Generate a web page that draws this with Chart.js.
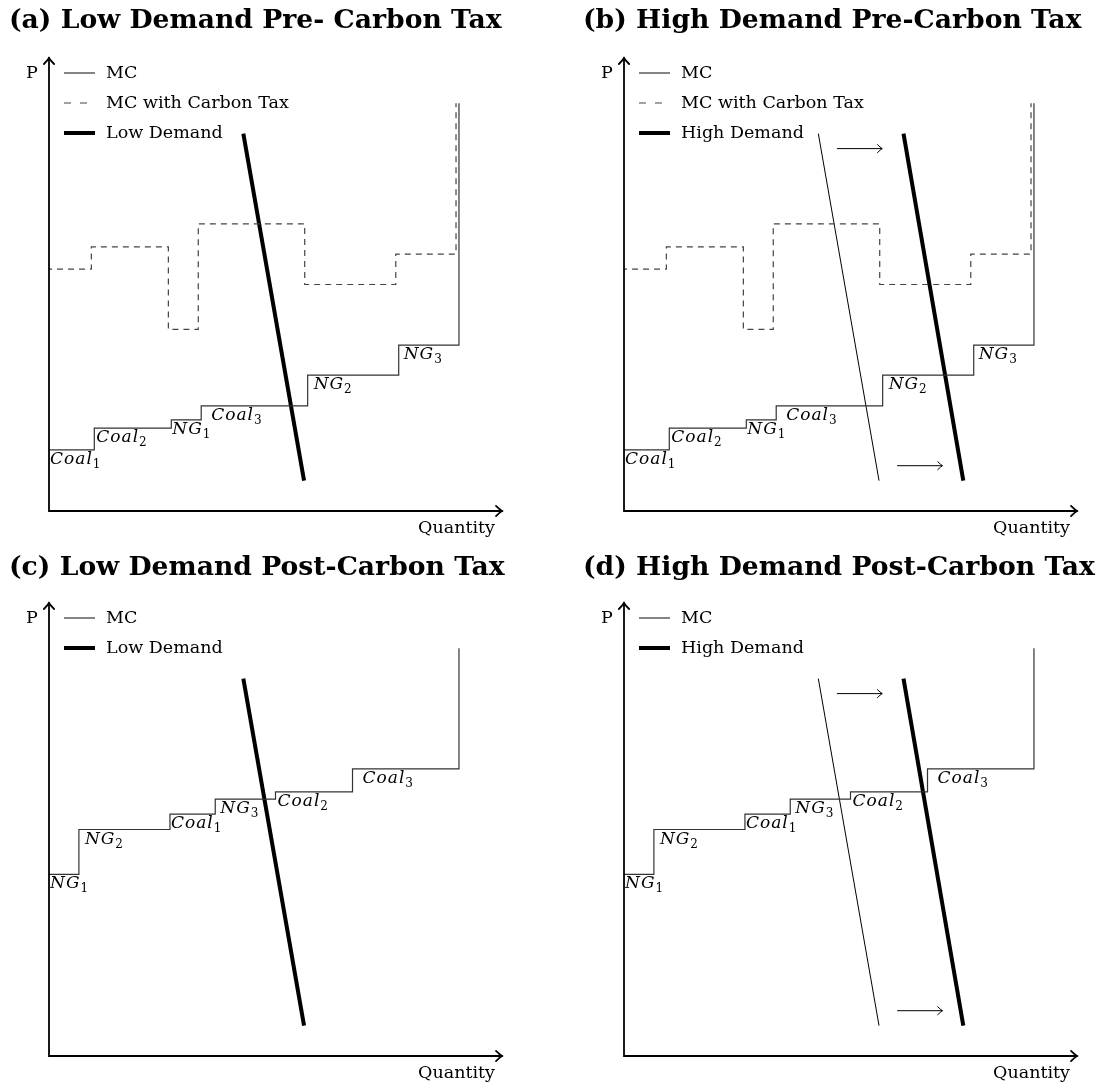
<!DOCTYPE html>
<html>
<head>
<meta charset="utf-8">
<script src="https://cdn.jsdelivr.net/npm/chart.js@4.4.1/dist/chart.umd.min.js"></script>
<style>
  body { margin: 0; background: #fff; }
  #wrap { position: relative; width: 1101px; height: 1082px; }
  canvas { position: absolute; }
</style>
</head>
<body>
<div id="wrap">
  <canvas id="panel-a" width="560" height="540" style="left:0;top:0"></canvas>
  <canvas id="panel-b" width="541" height="540" style="left:560px;top:0"></canvas>
  <canvas id="panel-c" width="560" height="542" style="left:0;top:540px"></canvas>
  <canvas id="panel-d" width="541" height="542" style="left:560px;top:540px"></canvas>
</div>
<script>
// --data (axis runs 0-100 on both sides)-- //
const generators = ['Coal_1', 'Coal_2', 'NG_1', 'Coal_3', 'NG_2', 'NG_3'];
const capacity = [10.0, 17.0, 6.6, 23.5, 20.1, 13.3];
const mcPre = [13.5, 18.3, 20.1, 23.2, 30.0, 36.6];
const mcTax = [53.4, 58.3, 40.1, 63.4, 50.0, 56.7];
const mcCap = 90.0;

const lowDemand = [{x: 42.9, y: 83.3}, {x: 56.3, y: 6.7}];
const highDemand = [{x: 61.7, y: 83.3}, {x: 74.9, y: 6.7}];
const shiftArrows = [{x0: 47.0, x1: 57.0, y: 80.0}, {x0: 60.3, x1: 70.3, y: 10.0}];

const titles = [
  '(a) Low Demand Pre- Carbon Tax',
  '(b) High Demand Pre-Carbon Tax',
  '(c) Low Demand Post-Carbon Tax',
  '(d) High Demand Post-Carbon Tax'
];

// merit order: before the tax in the listed order, after it sorted by taxed cost
const preOrder = generators.map((g, i) => i);
const postOrder = [...preOrder].sort((a, b) => mcTax[a] - mcTax[b]);

// small nudges so the step names sit like in the original
const labelShift = {Coal_1: 1, Coal_2: 2, NG_1: 1, Coal_3: 10, NG_2: 6, NG_3: 5};

const buildSteps = (order, prices, shift) => {
  let q = 0;
  const pts = [];
  order.forEach(i => {
    pts.push({x: q + shift, y: prices[i], name: generators[i]});
    q += capacity[i];
  });
  pts.push({x: q + shift, y: prices[order[order.length - 1]]});
  pts.push({x: q + shift, y: mcCap});
  return pts;
};

const SERIF = '"DejaVu Serif", serif';
const measure = document.createElement('canvas').getContext('2d');
const fitSize = (text, weight, target) => {
  measure.font = weight + ' 100px ' + SERIF;
  return 100 * target / measure.measureText(text).width;
};
const titlePx = Math.min(fitSize(titles[0], 'bold', 501), fitSize(titles[3], 'bold', 512));
const legendPx = fitSize('MC with Carbon Tax', 'normal', 183);

const lineColor = '#333';

const mcSet = (order, prices, withLabels) => ({
  label: 'MC',
  data: buildSteps(order, prices, 0),
  stepped: 'before',
  borderColor: lineColor,
  borderWidth: 1.2,
  stepLabels: withLabels
});
const taxSet = () => ({
  label: 'MC with Carbon Tax',
  data: buildSteps(preOrder, mcTax, -0.65),
  stepped: 'before',
  borderColor: '#444',
  borderWidth: 1.2,
  borderDash: [6, 5]
});
const demandSet = (label, data, width, inLegend) => ({
  label: label,
  data: data,
  borderColor: '#000',
  borderWidth: width,
  hideInLegend: !inLegend
});

const arrowHead = (ctx, x, y, angle, size) => {
  ctx.save();
  ctx.translate(x, y);
  ctx.rotate(angle);
  ctx.beginPath();
  ctx.moveTo(-size, -size * 0.85);
  ctx.quadraticCurveTo(-size * 0.35, -size * 0.2, 0, 0);
  ctx.quadraticCurveTo(-size * 0.35, size * 0.2, -size, size * 0.85);
  ctx.stroke();
  ctx.restore();
};

const drawLabel = (ctx, name, x, y) => {
  const [main, sub] = name.split('_');
  ctx.font = 'italic 17px ' + SERIF;
  ctx.letterSpacing = '1px';
  ctx.textAlign = 'left';
  ctx.textBaseline = 'alphabetic';
  ctx.fillText(main, x, y);
  const w = ctx.measureText(main).width;
  ctx.font = '12px ' + SERIF;
  ctx.letterSpacing = '0px';
  ctx.fillText(sub, x + w, y + 4);
};

const econPlugin = {
  id: 'econ',
  afterDatasetsDraw(chart, args, opts) {
    const ctx = chart.ctx;
    const {left, right, top, bottom} = chart.chartArea;
    const xs = chart.scales.x;
    const ys = chart.scales.y;
    ctx.save();
    ctx.fillStyle = '#000';

    // step names under each flat segment
    chart.data.datasets.forEach(ds => {
      if (!ds.stepLabels) return;
      ds.data.forEach(p => {
        if (!p.name) return;
        drawLabel(ctx, p.name, xs.getPixelForValue(p.x) + labelShift[p.name], ys.getPixelForValue(p.y) + 14);
      });
    });

    // shift arrows
    if (opts.arrows) {
      ctx.strokeStyle = '#000';
      ctx.lineWidth = 1;
      shiftArrows.forEach(a => {
        const y = ys.getPixelForValue(a.y);
        const x0 = xs.getPixelForValue(a.x0);
        const x1 = xs.getPixelForValue(a.x1);
        ctx.beginPath();
        ctx.moveTo(x0, y);
        ctx.lineTo(x1, y);
        ctx.stroke();
        arrowHead(ctx, x1, y, 0, 5);
      });
    }

    // axes
    ctx.strokeStyle = '#000';
    ctx.lineWidth = 1.8;
    ctx.lineCap = 'round';
    ctx.beginPath();
    ctx.moveTo(left, top);
    ctx.lineTo(left, bottom);
    ctx.lineTo(right, bottom);
    ctx.stroke();
    arrowHead(ctx, left, top, -Math.PI / 2, 6);
    arrowHead(ctx, right, bottom, 0, 6);

    ctx.font = legendPx.toFixed(2) + 'px ' + SERIF;
    ctx.textBaseline = 'middle';
    ctx.textAlign = 'center';
    ctx.fillText('P', left - 17, top + 15);
    ctx.textAlign = 'right';
    ctx.fillText('Quantity', right - 7, bottom + 17);

    // legend
    let row = 0;
    chart.data.datasets.forEach(ds => {
      if (ds.hideInLegend) return;
      const y = top + 15 + row * 30;
      ctx.strokeStyle = ds.borderColor;
      ctx.lineWidth = ds.borderWidth;
      ctx.lineCap = 'butt';
      ctx.setLineDash(ds.borderDash ? [7, 9] : []);
      ctx.beginPath();
      ctx.moveTo(left + 15, y);
      ctx.lineTo(left + 46, y);
      ctx.stroke();
      ctx.setLineDash([]);
      ctx.textAlign = 'left';
      ctx.fillText(ds.label, left + 57, y);
      row++;
    });

    // title
    ctx.font = 'bold ' + titlePx.toFixed(2) + 'px ' + SERIF;
    ctx.textAlign = 'left';
    ctx.textBaseline = 'alphabetic';
    ctx.fillText(opts.title, opts.titleX, opts.titleY);
    ctx.restore();
  }
};

const panels = [
  {id: 'panel-a', title: titles[0], titleX: 9, titleY: 28, arrows: false,
   pad: {left: 49, top: 58, right: 58, bottom: 29},
   datasets: [mcSet(preOrder, mcPre, true), taxSet(), demandSet('Low Demand', lowDemand, 4, true)]},
  {id: 'panel-b', title: titles[1], titleX: 23, titleY: 28, arrows: true,
   pad: {left: 64, top: 58, right: 24, bottom: 29},
   datasets: [mcSet(preOrder, mcPre, true), taxSet(), demandSet('', lowDemand, 1, false),
              demandSet('High Demand', highDemand, 4, true)]},
  {id: 'panel-c', title: titles[2], titleX: 9, titleY: 35, arrows: false,
   pad: {left: 49, top: 63, right: 58, bottom: 26},
   datasets: [mcSet(postOrder, mcTax, true), demandSet('Low Demand', lowDemand, 4, true)]},
  {id: 'panel-d', title: titles[3], titleX: 23, titleY: 35, arrows: true,
   pad: {left: 64, top: 63, right: 24, bottom: 26},
   datasets: [mcSet(postOrder, mcTax, true), demandSet('', lowDemand, 1, false),
              demandSet('High Demand', highDemand, 4, true)]}
];

panels.forEach(p => {
  new Chart(document.getElementById(p.id), {
    type: 'line',
    data: {datasets: p.datasets},
    options: {
      responsive: false,
      devicePixelRatio: 1,
      animation: false,
      layout: {padding: p.pad},
      elements: {point: {radius: 0, hoverRadius: 0}, line: {tension: 0}},
      scales: {
        x: {type: 'linear', min: 0, max: 100, display: false},
        y: {type: 'linear', min: 0, max: 100, display: false}
      },
      plugins: {
        legend: {display: false},
        tooltip: {enabled: false},
        econ: {title: p.title, titleX: p.titleX, titleY: p.titleY, arrows: p.arrows}
      }
    },
    plugins: [econPlugin]
  });
});
</script>
</body>
</html>
